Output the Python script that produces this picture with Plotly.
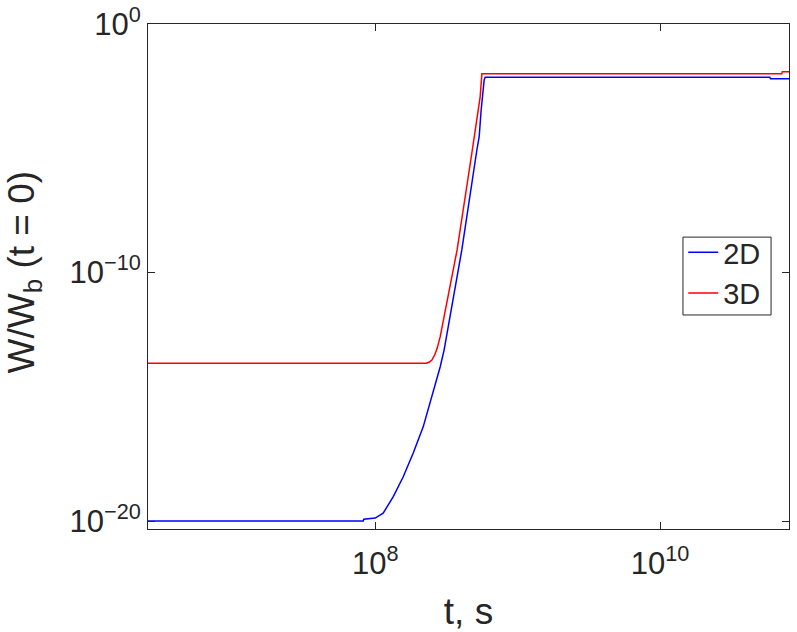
import numpy as np
import plotly.graph_objects as go

# Values (log10 of t in s, log10 of W/Wb)
log_t_2d = [6.405, 7.916, 7.92, 8.0, 8.056, 8.126, 8.196, 8.267, 8.337, 8.407,
            8.456, 8.484, 8.505, 8.608, 8.714, 8.730, 8.744, 8.753, 8.765, 8.772,
            10.77, 10.775, 10.905]
log_w_2d = [-20.0, -20.0, -19.93, -19.88, -19.68, -19.03, -18.23, -17.26, -16.21, -14.84,
            -13.80, -13.11, -12.43, -9.09, -5.06, -4.53, -3.45, -2.92, -2.25, -2.14,
            -2.14, -2.20, -2.20]

log_t_3d = [6.405, 8.36, 8.38, 8.398, 8.418, 8.435, 8.456, 8.575, 8.682, 8.716,
            8.737, 8.749, 10.854, 10.858, 10.905]
log_w_3d = [-13.65, -13.65, -13.60, -13.52, -13.31, -13.05, -12.59, -9.09, -5.06, -3.77,
            -2.92, -2.0, -2.0, -1.92, -1.92]

series_names = ["2D", "3D"]
series_colors = ["#0000FF", "#FF0000"]

x_tickvals = [1e8, 1e10]
x_ticktext = ["10<sup>8</sup>", "10<sup>10</sup>"]
y_tickvals = [1e-20, 1e-10, 1e0]
y_ticktext = ["10<sup>\u221220</sup>", "10<sup>\u221210</sup>", "10<sup>0</sup>"]
x_title = "t, s"
y_title = "W/W<sub>b</sub> (t = 0)"

t_2d = np.power(10.0, log_t_2d)
w_2d = np.power(10.0, log_w_2d)
t_3d = np.power(10.0, log_t_3d)
w_3d = np.power(10.0, log_w_3d)

FONT = "Liberation Sans, Arial, sans-serif"
AX = "#262626"

fig = go.Figure()
for t, w, name, col in [(t_2d, w_2d, series_names[0], series_colors[0]),
                        (t_3d, w_3d, series_names[1], series_colors[1])]:
    fig.add_trace(go.Scatter(x=t, y=w, mode="lines", name=name,
                             line=dict(color=col, width=1.5)))

axis_common = dict(showline=True, linecolor=AX, linewidth=1, mirror="ticks",
                   ticks="inside", ticklen=7, tickcolor=AX, tickwidth=1,
                   showgrid=False, zeroline=False,
                   tickfont=dict(family=FONT, size=31, color=AX))

fig.update_xaxes(type="log", range=[6.405, 10.905], tickmode="array",
                 tickvals=x_tickvals, ticktext=x_ticktext, ticklabelstandoff=7,
                 title=dict(text=x_title, font=dict(family=FONT, size=37, color=AX), standoff=18),
                 **axis_common)
fig.update_yaxes(type="log", range=[-20.32, 0.0], tickmode="array",
                 tickvals=y_tickvals, ticktext=y_ticktext,
                 **axis_common)

# y-axis title placed as rotated annotation
fig.add_annotation(text=y_title, xref="paper", yref="paper",
                   x=-0.231, y=0.508, xanchor="left", yanchor="middle",
                   textangle=-90, showarrow=False,
                   font=dict(family=FONT, size=37, color=AX))

# legend frame (decoration)
fig.add_shape(type="rect", xref="paper", yref="paper",
              x0=0.8346, x1=0.972, y0=0.4238, y1=0.578,
              line=dict(color=AX, width=1), fillcolor="white", layer="above")

fig.update_layout(
    width=797, height=632,
    margin=dict(l=148, r=8, t=24, b=103, autoexpand=False),
    paper_bgcolor="white", plot_bgcolor="white",
    font=dict(family=FONT, color=AX),
    legend=dict(x=0.835, y=0.598, xanchor="left", yanchor="top",
                bgcolor="rgba(0,0,0,0)", borderwidth=0,
                font=dict(family=FONT, size=29, color=AX),
                itemwidth=30, tracegroupgap=0),
)

fig.write_html("out.html")
